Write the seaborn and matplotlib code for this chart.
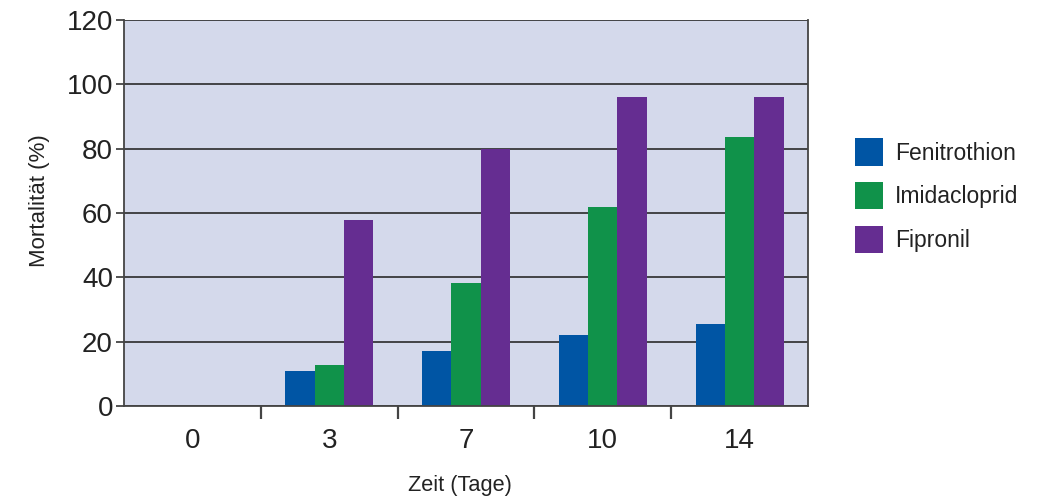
import matplotlib
matplotlib.use("Agg")
import matplotlib.pyplot as plt
import seaborn as sns
import pandas as pd
from matplotlib.patches import Patch

days = ["0", "3", "7", "10", "14"]
series = ["Fenitrothion", "Imidacloprid", "Fipronil"]
fenitrothion = [0, 10.9, 17.1, 22.0, 25.5]
imidacloprid = [0, 12.7, 38.3, 62.0, 83.5]
fipronil = [0, 57.9, 80.0, 96.2, 96.2]
colors = ["#0055A4", "#10924A", "#652D91"]

rows = []
for name, vals in zip(series, [fenitrothion, imidacloprid, fipronil]):
    for d, v in zip(days, vals):
        rows.append({"Zeit": d, "Serie": name, "Wert": v})
df = pd.DataFrame(rows)

sns.set_style("white")
plt.rcParams["font.family"] = ["Liberation Sans", "DejaVu Sans"]

fig = plt.figure(figsize=(10.48, 4.98), dpi=100)
ax = fig.add_axes([124/1048, 1-406/498, (808-124)/1048, (406-20)/498])
ax.set_facecolor("#D4D9EB")

sns.barplot(data=df, x="Zeit", y="Wert", hue="Serie", order=days, hue_order=series,
            palette=colors, width=0.643, gap=0, saturation=1, ax=ax, legend=False,
            linewidth=0, errorbar=None)

ax.set_ylim(0, 120)
ax.set_xlim(-0.5, 4.5)
ax.set_yticks([0, 20, 40, 60, 80, 100, 120])
ax.yaxis.grid(True, color="#2a2a2a", linewidth=1.2)
ax.set_axisbelow(True)

for s in ["left", "bottom", "right", "top"]:
    ax.spines[s].set_color("#444444")
    ax.spines[s].set_linewidth(1.3)
ax.spines["top"].set_visible(False)

ax.tick_params(axis="y", left=True, length=6, width=1.3, color="#444444", labelsize=20, pad=2, labelcolor="#222222")
ax.tick_params(axis="x", which="major", bottom=False, length=0, labelsize=20, pad=16, labelcolor="#222222")
ax.set_xticks([0.5, 1.5, 2.5, 3.5], minor=True)
ax.tick_params(axis="x", which="minor", bottom=True, length=9, width=1.6, color="#444444")

ax.set_xlabel("Zeit (Tage)", fontsize=15.7, color="#222222")
ax.set_ylabel("Mortalität (%)", fontsize=16, color="#222222")
ax.xaxis.set_label_coords(0.491, -0.1788)
ax.yaxis.set_label_coords(-0.108, 0.531)

handles = [Patch(facecolor=c, edgecolor="none", label=n) for c, n in zip(colors, series)]
fig.legend(handles=handles, loc="upper left", bbox_to_anchor=(837/1048, 1-120/498),
           frameon=False, fontsize=16.5, handlelength=1.22, handleheight=1.45,
           labelspacing=0.72, handletextpad=0.5, labelcolor="#222222", borderpad=0.3)

fig.savefig("out.png", dpi=100)
